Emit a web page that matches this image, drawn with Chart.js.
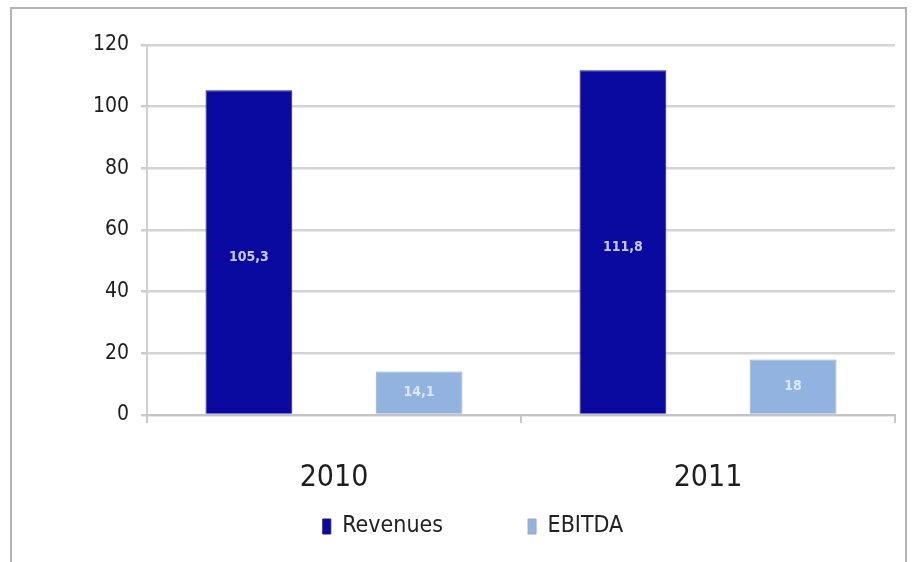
<!DOCTYPE html>
<html>
<head>
<meta charset="utf-8">
<title>Revenues and EBITDA</title>
<script src="https://cdn.jsdelivr.net/npm/chart.js@4/dist/chart.umd.min.js"></script>
<style>
  html, body { margin: 0; padding: 0; background: #fff; }
  #wrap { position: relative; width: 917px; height: 562px; }
  #frame { position: absolute; left: 10px; top: 7px; width: 897px; height: 560px; border: 2px solid #b4b4b4; box-sizing: border-box; }
  canvas { position: absolute; left: 0; top: 0; }
</style>
</head>
<body>
<div id="wrap">
  <div id="frame"></div>
  <canvas id="grafico" width="917" height="562"></canvas>
</div>
<script>
// anos e valores (milhões)
const anos = ["2010", "2011"];
const revenues = [105.3, 111.8];
const ebitda = [14.1, 18];
const rotulosRevenues = ["105,3", "111,8"];
const rotulosEbitda = ["14,1", "18"];
const ticksY = [0, 20, 40, 60, 80, 100, 120];

const fonte = "'Liberation Sans Narrow', 'DejaVu Sans Condensed', 'Arial Narrow', sans-serif";

// escreve o valor no meio de cada barra
const rotulosPlugin = {
  id: "rotulos",
  afterDatasetsDraw(chart) {
    const ctx = chart.ctx;
    const textos = [rotulosRevenues, rotulosEbitda];
    ctx.save();
    ctx.font = "bold 14px " + fonte;
    ctx.textAlign = "center";
    ctx.textBaseline = "middle";
    chart.data.datasets.forEach((ds, i) => {
      chart.getDatasetMeta(i).data.forEach((bar, j) => {
        ctx.fillStyle = i === 0 ? "#c9c9ff" : "#dce8f8";
        ctx.fillText(textos[i][j], bar.x, (bar.y + bar.base) / 2 + (i === 0 ? 5 : 0));
      });
    });
    ctx.restore();
  }
};

new Chart(document.getElementById("grafico").getContext("2d"), {
  type: "bar",
  data: {
    labels: anos,
    datasets: [
      { label: "Revenues", data: revenues, backgroundColor: "#0a0aa0", borderColor: "#1c1c78", borderWidth: 1 },
      { label: "EBITDA", data: ebitda, backgroundColor: "#92b3e0", borderColor: "#9aa6c8", borderWidth: 1 }
    ]
  },
  options: {
    responsive: false,
    animation: false,
    categoryPercentage: 0.91,
    barPercentage: 0.51,
    layout: { padding: { top: 45, right: 22, left: 51, bottom: 14 } },
    scales: {
      y: {
        min: 0,
        max: 120,
        afterBuildTicks: (axis) => { axis.ticks = ticksY.map(v => ({ value: v })); },
        afterFit: (axis) => { axis.width = 96; },
        grid: { color: "#d4d4d4", lineWidth: 2.5, tickLength: 6, tickColor: "#cccccc" },
        border: { color: "#d0d0d0", width: 2 },
        ticks: { color: "#1e1e1e", font: { family: fonte, size: 21 }, padding: 12 }
      },
      x: {
        // axis box kept short so the legend sits just below; labels are mirrored so they are not clipped
        afterFit: (axis) => { axis.height = 15; },
        grid: { drawOnChartArea: false, color: "#c8c8c8", lineWidth: 2, tickLength: 8, offset: true },
        border: { color: "#c4c4c4", width: 2 },
        ticks: { color: "#1e1e1e", font: { family: fonte, size: 30 }, mirror: true, padding: -81 }
      }
    },
    plugins: {
      tooltip: { enabled: false },
      legend: {
        position: "bottom",
        labels: {
          color: "#222",
          font: { family: fonte, size: 23 },
          boxWidth: 8,
          boxHeight: 15,
          padding: 85,
          useBorderRadius: false
        }
      }
    }
  },
  plugins: [rotulosPlugin]
});
</script>
</body>
</html>
